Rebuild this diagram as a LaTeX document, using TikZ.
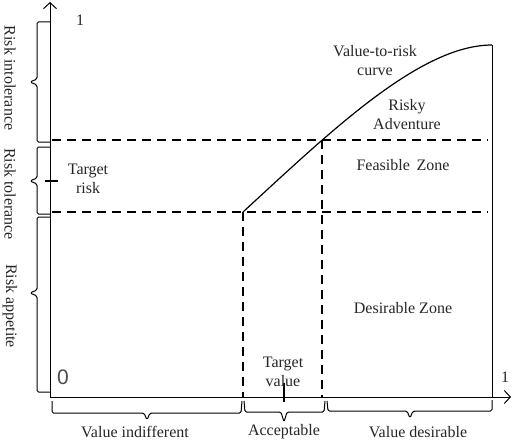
\documentclass[tikz,border=0pt]{standalone}
\usepackage{fontspec}
\setmainfont{Liberation Serif}
\newfontfamily\zerofont{Liberation Sans}
\usetikzlibrary{arrows.meta}
\begin{document}
\begin{tikzpicture}[x=1pt,y=-1pt,
  lbl/.style={font=\fontsize{16}{19}\selectfont, align=center, inner sep=0pt, text=black!85},
  axisline/.style={line width=1pt, -{Straight Barb[length=6pt,width=13pt]}},
  dashline/.style={line width=2.2pt, dash pattern=on 9pt off 6pt},
  bracepath/.style={line width=1pt, rounded corners=1.5pt},
  thinline/.style={line width=1pt},
  tickline/.style={line width=1.8pt}]
\useasboundingbox (0,0) rectangle (514,444);

% axes
\coordinate (O) at (50,397);
\coordinate (ytop) at (50,2);
\coordinate (xend) at (511,397);
\draw[axisline] (O) -- (ytop);
\draw[axisline] (O) -- (xend);

% key points
\coordinate (c1) at (243,212);
\coordinate (c2) at (322,140);
\coordinate (c3) at (492,45);
\coordinate (v1b) at (243,397);
\coordinate (v2b) at (322,397);
\coordinate (rb) at (492,397);
\coordinate (hu1) at (52,140);
\coordinate (hu2) at (488,140);
\coordinate (hl1) at (52,212);
\coordinate (hl2) at (488,212);

% curve and right border
\draw[line width=1.2pt] (c1) .. controls (330,132) and (420,45) .. (c3);
\draw[thinline] (c3) -- (rb);

% dashed lines
\draw[dashline] (hu1) -- (hu2);
\draw[dashline] (hl1) -- (hl2);
\draw[dashline] (c1) -- (v1b);
\draw[dashline] (c2) -- (v2b);

% ticks
\coordinate (yt1) at (45,181);
\coordinate (yt2) at (58,181);
\coordinate (xt1) at (284,383);
\coordinate (xt2) at (284,402);
\draw[tickline] (yt1) -- (yt2);
\draw[tickline] (xt1) -- (xt2);

% left braces
\draw[bracepath] (50,22) -- (37,22) -- (37,79) -- (30,82) -- (37,85) -- (37,142) -- (50,142);
\draw[bracepath] (50,147) -- (37,147) -- (37,178) -- (30,181) -- (37,184) -- (37,214) -- (50,214);
\draw[bracepath] (50,217) -- (37,217) -- (37,290) -- (30,293) -- (37,296) -- (37,392) -- (50,392);

% bottom braces
\draw[bracepath] (52,401) -- (52,413) -- (144,413) -- (147,420) -- (150,413) -- (241,413) -- (242,401);
\draw[bracepath] (244,401) -- (245,412) -- (281,412) -- (284,422) -- (287,412) -- (324,412) -- (325,401);
\draw[bracepath] (327,401) -- (328,411) -- (407,411) -- (410,418) -- (413,411) -- (492,411) -- (492,400);

% texts
\node[lbl] (one1) at (80,20) {1};
\node[lbl] (one2) at (505,377) {1};
\node[font=\zerofont\fontsize{21}{21}\selectfont, text=black!70, inner sep=0pt] (zero) at (63,377) {0};

\node[lbl] (vtr) at (375,61) {Value-to-risk\\curve};
\node[lbl] (risky) at (407,115) {Risky\\Adventure};
\node[lbl] (feas) at (403,165) {Feasible \,Zone};
\node[lbl] (des) at (403,308) {Desirable Zone};
\node[lbl] (trisk) at (88,179) {Target\\risk};
\node[lbl] (tval) at (283,372) {Target\\value};

\node[lbl] (vind) at (135,432) {Value indifferent};
\node[lbl] (acc) at (284,432) {Acceptable};
\node[lbl] (vdes) at (418,432) {Value desirable};

\node[lbl, rotate=-90] (rint) at (10,78) {Risk intolerance};
\node[lbl, rotate=-90] (rtol) at (10,194) {Risk tolerance};
\node[lbl, rotate=-90] (rapp) at (10,306) {Risk appetite};
\end{tikzpicture}
\end{document}
